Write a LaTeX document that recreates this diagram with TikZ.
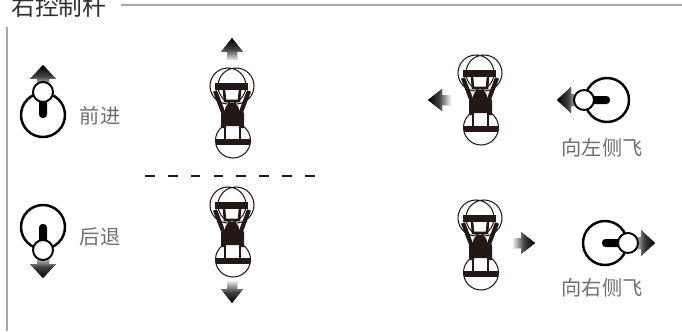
\documentclass[tikz,border=0pt]{standalone}
\usepackage{fontspec}
\newfontfamily\cjk{Noto Sans CJK SC}
\usetikzlibrary{arrows}

\definecolor{ink}{HTML}{231815}
\definecolor{rule}{HTML}{A7A8A8}
\definecolor{caption}{HTML}{6E6E6E}

% outline of a fading arrow, tip at the origin, pointing up
\newcommand\fadepath[2]{(0,0) -- (#1,14) -- (#2,14) -- (#2,22) -- (-#2,22) -- (-#2,14) -- (-#1,14) -- cycle}

\tikzset{
  fade/.style={top color=black, bottom color=white!92!black, middle color=black!75, shading angle=#1},
  bigarrow/.pic={\fill[fade=#1] \fadepath{13}{6};},
  smallarrow/.pic={\fill[fade=#1] \fadepath{11}{5};},
  % stick with the knob pushed up
  stick/.pic={
    \draw[line width=1.4pt] (0,0) circle[radius=22];
    \fill[rounded corners=2pt] (-4,-16) rectangle (4,3);
    \draw[line width=1.1pt, fill=white] (0,-23) circle[radius=10];
  },
  % quadcopter seen from above, nose up
  drone/.pic={
    \draw[ink, line width=.6pt] (-4,19) circle[radius=18] (4,19) circle[radius=18];
    \draw[ink, line width=.6pt] (1,73.5) circle[radius=17.5];
    \fill[ink] (-17,16) rectangle (16,23);
    \draw[ink, line width=1.5pt] (-8,23) -- (-7,34) -- (7,34) -- (8,23);
    \draw[ink, line width=2.4pt] (-17,24) -- (-9,45) (17,24) -- (9,45);
    \fill[ink] (0,43) circle[radius=7];
    \fill[ink, rounded corners=1.5pt] (-11,44) rectangle (12,59);
    \fill[ink] (-11,57) rectangle (-6,61) (7,57) rectangle (12,61);
    \draw[ink, line width=1.5pt] (-7,58) -- (-7,75) (8,58) -- (8,75);
    \fill[ink] (-16,72) rectangle (18,78);
  }
}

\begin{document}
\begin{tikzpicture}[x=0.02cm, y=-0.02cm,
  headline/.style={font=\cjk\fontsize{13.5pt}{16pt}\selectfont, text=black!82, inner sep=0pt},
  caption/.style={font=\cjk\fontsize{11.5pt}{14pt}\selectfont, text=caption, inner sep=0pt},
  divider/.style={ink, line width=1.7pt, dash pattern=on 5.5pt off 7.5pt}]

  \useasboundingbox (0,0) rectangle (682,331);

  % frame and title
  \node[headline, anchor=west] (title) at (11,6) {右控制杆};
  \coordinate (frameR) at (682,5);
  \coordinate (frameT) at (7,27);
  \coordinate (frameB) at (7,331);
  \draw[rule, line width=.8pt] ([xshift=8pt]title.east |- frameR) -- (frameR);
  \draw[rule, line width=.8pt] (frameT) -- (frameB);

  % forward / backward
  \pic at (43,65) {bigarrow=0};
  \pic at (43,115) {stick};
  \node[caption] (fwd) at (100,116) {前进};
  \pic at (232,38) {smallarrow=0};
  \pic at (232,67) {drone};

  \coordinate (dashL) at (145,176);
  \coordinate (dashR) at (320,176);
  \draw[divider] (dashL) -- (dashR);

  \pic[rotate=180] at (43,278) {bigarrow=180};
  \pic[rotate=180] at (43,227) {stick};
  \node[caption] (back) at (100,237) {后退};
  \pic at (232,186) {drone};
  \pic[rotate=180] at (232,303) {smallarrow=180};

  % sideways
  \pic at (480,54) {drone};
  \pic[rotate=90] at (428,100) {smallarrow=90};
  \pic[rotate=90] at (557,100) {bigarrow=90};
  \pic[rotate=90] at (607,100) {stick};
  \node[caption] (left) at (602,148) {向左侧飞};

  \pic at (480,199) {drone};
  \pic[rotate=-90] at (535,243) {smallarrow=270};
  \pic[rotate=-90] at (655,243) {bigarrow=270};
  \pic[rotate=-90] at (605,243) {stick};
  \node[caption] (right) at (602,288) {向右侧飞};
\end{tikzpicture}
\end{document}
